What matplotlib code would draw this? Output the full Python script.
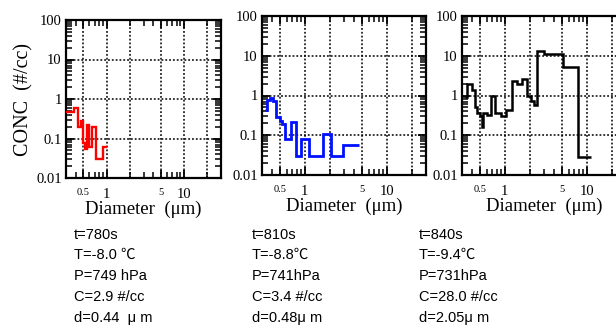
import matplotlib
matplotlib.use("Agg")
import matplotlib.pyplot as plt
import numpy as np
from matplotlib.ticker import LogLocator, NullFormatter

# 粒径分布(階段状) 各時刻
RED_EDGES = [0.30, 0.38, 0.43, 0.47, 0.50, 0.53, 0.56, 0.59, 0.64, 0.74, 0.90, 1.0]
RED_VALS = [0.48, 0.60, 0.20, 0.27, 0.075, 0.055, 0.22, 0.06, 0.20, 0.03, 0.06]

BLUE_EDGES = [0.325, 0.347, 0.374, 0.41, 0.443, 0.496, 0.52, 0.57, 0.67, 0.77,
              0.89, 1.13, 1.67, 2.06, 2.93, 4.6]
BLUE_VALS = [0.43, 0.77, 0.88, 0.73, 0.29, 0.23, 0.19, 0.08, 0.21, 0.03,
             0.08, 0.03, 0.105, 0.03, 0.057]

BLACK_EDGES = [0.33, 0.345, 0.40, 0.43, 0.46, 0.495, 0.52, 0.545, 0.60, 0.68,
               0.76, 0.89, 1.03, 1.22, 1.41, 1.62, 1.87, 2.06, 2.26, 2.44,
               3.0, 5.06, 7.74, 11.3]
BLACK_VALS = [0.9, 1.95, 1.38, 0.52, 0.36, 0.30, 0.16, 0.36, 0.32, 1.0,
              0.36, 0.31, 0.43, 2.35, 1.95, 2.55, 1.0, 0.74, 0.58, 13.4,
              10.9, 5.1, 0.029]

INFO = [
    ["t=780s", "T=-8.0 \u2103", "P=749 hPa", "C=2.9 #/cc", "d=0.44  \u03bc m"],
    ["t=810s", "T=-8.8\u2103", "P=741hPa", "C=3.4 #/cc", "d=0.48\u03bc m"],
    ["t=840s", "T=-9.4\u2103", "P=731hPa", "C=28.0 #/cc", "d=2.05\u03bc m"],
]

X_TICKS = [0.5, 1, 5, 10]
X_TICK_LABELS = ["0.5", "1", "5", "10"]
Y_TICKS = [0.01, 0.1, 1, 10, 100]
Y_TICK_LABELS = ["0.01", "0.1", "1", "10", "100"]

SERIF = "Liberation Serif"
SANS = ["Liberation Sans", "Noto Sans CJK JP", "DejaVu Sans"]

W, H = 616, 326


def px_axes(fig, left, top, right, bottom):
    return fig.add_axes([left / W, 1 - bottom / H, (right - left) / W, (bottom - top) / H])


def style_axes(ax, ylabel=False):
    ax.set_xscale("log")
    ax.set_yscale("log")
    ax.set_xlim(0.3, 30)
    ax.set_ylim(0.01, 100)
    for x in [0.5, 1, 2, 5, 10, 20]:
        ax.axvline(x, color="k", lw=1.1, ls=(0, (1.2, 1.3)), zorder=1)
    for y in [0.1, 1, 10]:
        ax.axhline(y, color="k", lw=1.1, ls=(0, (1.2, 1.3)), zorder=1)
    ax.set_xticks(X_TICKS, X_TICK_LABELS)
    ax.set_yticks(Y_TICKS, Y_TICK_LABELS)
    ax.xaxis.set_minor_locator(LogLocator(base=10, subs=np.arange(2, 10)))
    ax.yaxis.set_minor_locator(LogLocator(base=10, subs=np.arange(2, 10)))
    ax.xaxis.set_minor_formatter(NullFormatter())
    ax.yaxis.set_minor_formatter(NullFormatter())
    ax.tick_params(which="both", direction="in", top=True, right=True)
    ax.tick_params(which="major", length=6, width=1.3)
    ax.tick_params(which="minor", length=4, width=1.1)
    ax.tick_params(axis="y", pad=3)
    ax.tick_params(axis="x", pad=7)
    for lab in ax.get_yticklabels():
        lab.set_fontfamily(SERIF)
        lab.set_fontsize(10.5)
    for lab, txt in zip(ax.get_xticklabels(), X_TICK_LABELS):
        lab.set_fontfamily(SERIF)
        lab.set_fontsize(7.5 if txt in ("0.5", "5") else 10.5)
    for sp in ax.spines.values():
        sp.set_linewidth(1.6)
    ax.set_xlabel("Diameter  (\u03bcm)", fontfamily=SERIF, fontsize=13.5, labelpad=0)
    if ylabel:
        ax.set_ylabel("CONC  (#/cc)", fontfamily=SERIF, fontsize=14.5, labelpad=2)


fig = plt.figure(figsize=(W / 100, H / 100), dpi=100)

ax1 = px_axes(fig, 66, 20, 221, 178)
ax2 = px_axes(fig, 262, 16, 426, 175)
ax3 = px_axes(fig, 462, 16, 626, 175)

for ax, edges, vals, col, lw in [
    (ax1, RED_EDGES, RED_VALS, "red", 1.7),
    (ax2, BLUE_EDGES, BLUE_VALS, "#0010ff", 2.0),
    (ax3, BLACK_EDGES, BLACK_VALS, "black", 1.8),
]:
    ax.stairs(vals, edges, baseline=None, color=col, lw=lw, zorder=3)

style_axes(ax1, ylabel=True)
style_axes(ax2)
style_axes(ax3)

text_x = [74, 252, 419]
line_y = [235, 255, 276, 297, 318]
for tx, lines in zip(text_x, INFO):
    for ty, s in zip(line_y, lines):
        fig.text(tx / W, 1 - ty / H, s, family=SANS, fontsize=10.5,
                 ha="left", va="center")

fig.savefig("out.png", dpi=100)
